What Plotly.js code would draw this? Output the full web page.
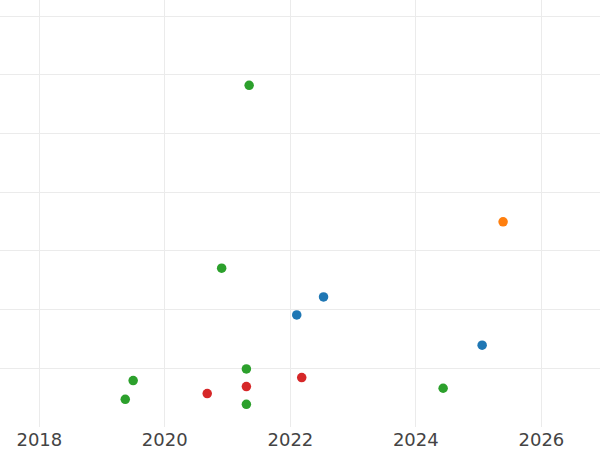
<!DOCTYPE html>
<html>
<head>
<meta charset="utf-8">
<script src="https://cdn.plot.ly/plotly-3.0.1.min.js"></script>
<style>html,body{margin:0;padding:0;background:#fff;}#chart{width:600px;height:450px;}</style>
</head>
<body>
<div id="chart"></div>
<script>
// Series (x = date, y = value on a hidden axis)
const greenDates = ["2021-05-06", "2020-11-27", "2019-07-01", "2019-05-16", "2021-04-20", "2021-04-20", "2024-06-08"];
const greenValues = [5.82, 2.705, 0.79, 0.472, 0.989, 0.387, 0.66];

const redDates = ["2020-09-04", "2021-04-20", "2022-03-08"];
const redValues = [0.569, 0.689, 0.842];

const blueDates = ["2022-02-07", "2022-07-13", "2025-01-21"];
const blueValues = [1.909, 2.216, 1.393];

const orangeDates = ["2025-05-23"];
const orangeValues = [3.494];

const tickYears = ["2018", "2020", "2022", "2024", "2026"];

function series(x, y, color) {
  return {
    type: "scatter", mode: "markers", x: x, y: y,
    marker: {color: color, size: 9.5, line: {width: 0}},
    hoverinfo: "skip"
  };
}

const data = [
  series(blueDates, blueValues, "#1f77b4"),
  series(orangeDates, orangeValues, "#ff7f0e"),
  series(greenDates, greenValues, "#2ca02c"),
  series(redDates, redValues, "#d62728")
];

const layout = {
  width: 600, height: 450,
  margin: {l: 0, r: 0, t: 0, b: 23, pad: 0},
  paper_bgcolor: "#ffffff", plot_bgcolor: "#ffffff",
  showlegend: false,
  font: {family: "DejaVu Sans", size: 18, color: "#444444"},
  xaxis: {
    type: "date",
    range: ["2017-05-17", "2026-12-08"],
    tickmode: "array",
    tickvals: tickYears.map(y => y + "-01-01"),
    ticktext: tickYears,
    showgrid: true, gridcolor: "#ebebeb", gridwidth: 1,
    zeroline: false, showline: false, ticks: "",
    automargin: false
  },
  yaxis: {
    range: [0, 7.273],
    dtick: 1, tick0: 0,
    showticklabels: false,
    showgrid: true, gridcolor: "#ebebeb", gridwidth: 1,
    zeroline: false, showline: false, ticks: "",
    automargin: false
  }
};

Plotly.newPlot("chart", data, layout, {displayModeBar: false, staticPlot: true});
</script>
</body>
</html>
